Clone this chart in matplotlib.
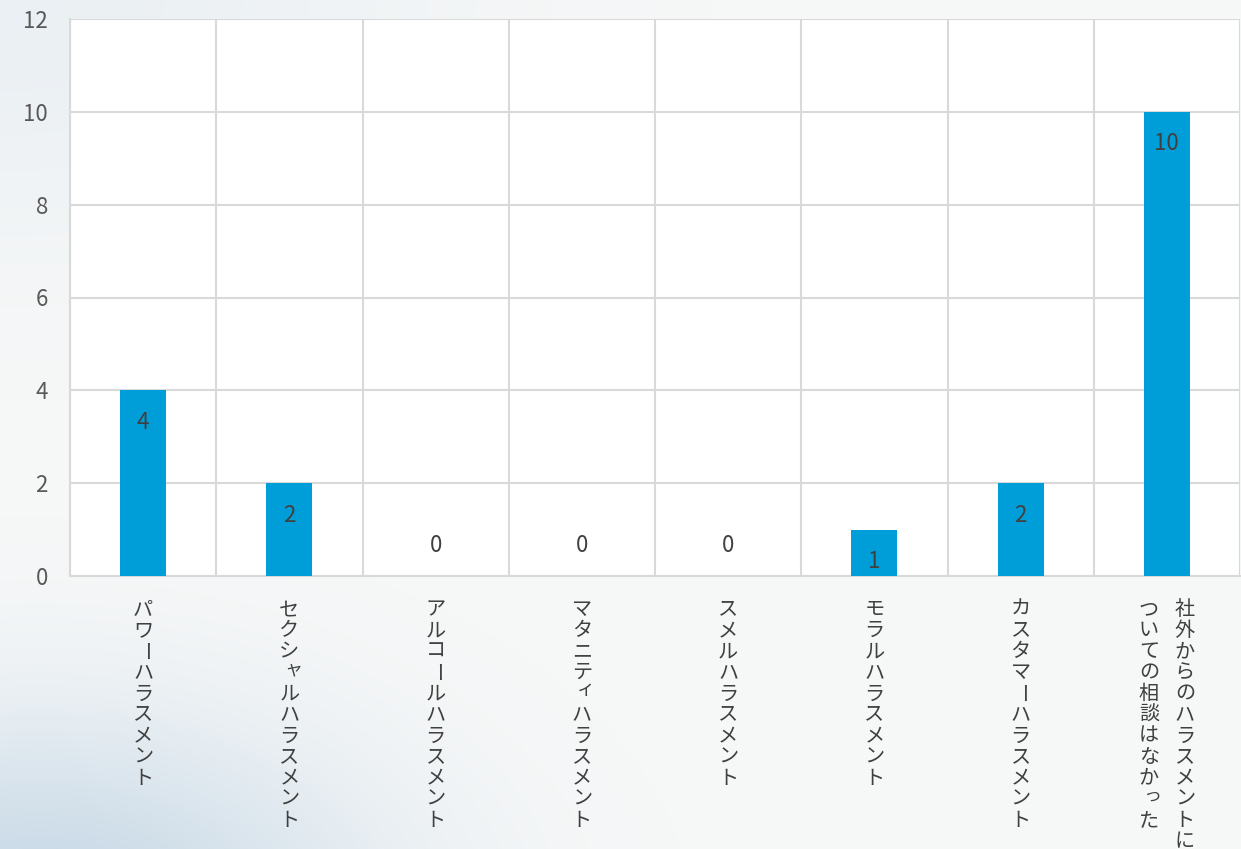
import numpy as np
import matplotlib.pyplot as plt
from matplotlib.colors import to_rgb

plt.rcParams['font.family'] = ['Noto Sans CJK JP', 'DejaVu Sans']

# 相談件数（ハラスメントの種類別）
categories = [
    "パワーハラスメント",
    "セクシャルハラスメント",
    "アルコールハラスメント",
    "マタニティハラスメント",
    "スメルハラスメント",
    "モラルハラスメント",
    "カスタマーハラスメント",
    "社外からのハラスメントに\nついての相談はなかった",
]
counts = [4, 2, 0, 0, 0, 1, 2, 10]
yticks = [0, 2, 4, 6, 8, 10, 12]

bar_color = "#009ed8"
grid_color = "#d9d9d9"
text_color = "#404040"
tick_color = "#595959"

fig = plt.figure(figsize=(12.41, 8.49), dpi=100)

# 背景のうっすらとしたグラデーション
bg = fig.add_axes([0, 0, 1, 1], zorder=-10)
h, w = 849, 1241
yy, xx = np.mgrid[0:h, 0:w]
base = np.array(to_rgb("#f7f8f8"))
blue = np.array(to_rgb("#c6d8e6"))
d = np.exp(-(((xx - 40) / 330.0) ** 2 + ((yy - 920) / 200.0) ** 2))
t = np.exp(-(((xx - 0) / 450.0) ** 2 + ((yy - 0) / 250.0) ** 2)) * 0.25
k = np.clip(d + t, 0, 1)[..., None]
img = base * (1 - k) + blue * k
bg.imshow(img, aspect="auto", extent=[0, 1, 0, 1], origin="upper")
bg.axis("off")

ax = fig.add_axes([70 / 1241, 1 - 576 / 849, 1170 / 1241, 557 / 849])
ax.set_facecolor("white")

x = np.arange(len(categories))
ax.bar(x, counts, width=0.315, color=bar_color, zorder=3)

ax.set_xlim(-0.5, len(categories) - 0.5)
ax.set_ylim(0, 12)
ax.set_yticks(yticks)
ax.set_yticklabels([str(v) for v in yticks], fontsize=16, color=tick_color)
ax.tick_params(axis="y", length=0, pad=16)

# 縦の区切り線
ax.set_xticks(np.arange(-0.5, len(categories), 1.0), minor=True)
ax.set_xticks([])
ax.tick_params(axis="x", which="both", length=0)
ax.grid(True, axis="y", color=grid_color, linewidth=1.5, zorder=0)
ax.grid(True, axis="x", which="minor", color=grid_color, linewidth=1.5, zorder=0)
for side in ["left", "bottom", "top", "right"]:
    ax.spines[side].set_color(grid_color)
    ax.spines[side].set_linewidth(1.5)
ax.spines["top"].set_visible(False)
ax.spines["right"].set_visible(False)

# データラベル
for xi, v in zip(x, counts):
    off = -23 if v > 0 else 22
    ax.annotate(str(v), xy=(xi, v), xytext=(0, off), textcoords="offset points",
                ha="center", va="center", fontsize=16, color=text_color, zorder=4)

# 縦書きのカテゴリ名
step = 15.2   # 文字送り (pt)
top = -16.5   # 軸からの開始位置 (pt)
small = set("ャュョッィァゥェォっゃゅょ")
for xi, label in zip(x, categories):
    cols = label.split("\n")
    n = len(cols)
    for ci, col in enumerate(cols):
        dx = (n - 1 - ci) * 26 - (n - 1) * 13
        for i, ch in enumerate(col):
            ox, oy = dx, top - (i + 0.5) * step
            rot = 0
            fs = 14.5
            if ch == "ー":
                rot = -90
            if ch in small:
                ox += 2.5
                oy += 2.5
                fs = 13
            ax.annotate(ch, xy=(xi, 0), xycoords=("data", "axes fraction"),
                        xytext=(ox, oy), textcoords="offset points",
                        ha="center", va="center", rotation=rot,
                        fontsize=fs, color=text_color, annotation_clip=False)

fig.savefig("out.png", dpi=100)
